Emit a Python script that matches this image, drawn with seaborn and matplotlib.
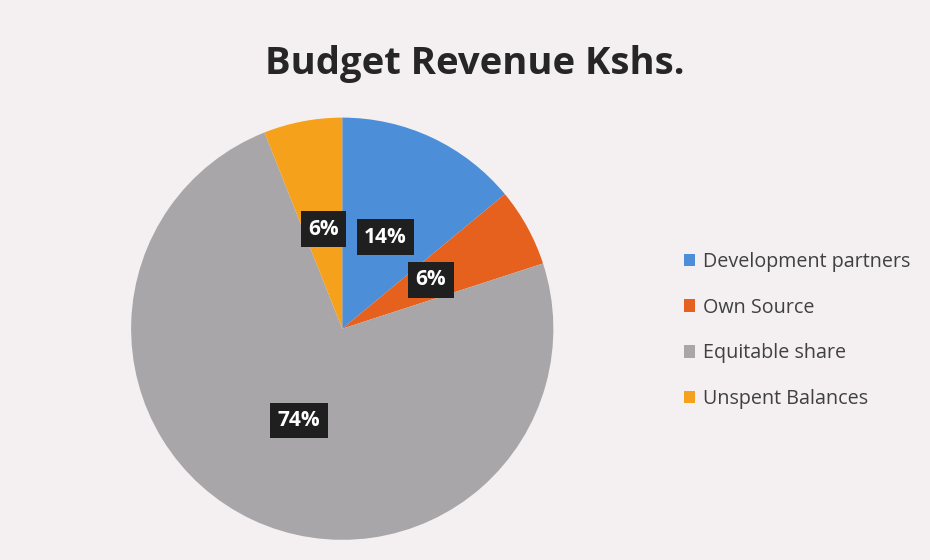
import matplotlib
matplotlib.use("Agg")
import matplotlib.pyplot as plt
import seaborn as sns

# budget revenue shares (percent)
sources = ["Development partners", "Own Source", "Equitable share", "Unspent Balances"]
shares = [14, 6, 74, 6]
colors = ["#4c8fd8", "#e6611e", "#a8a6a9", "#f6a11c"]

sns.set_theme(style="white")
plt.rcParams['font.family'] = ['Open Sans', 'DejaVu Sans']

fig = plt.figure(figsize=(9.3, 5.6), dpi=100, facecolor="#f4f0f1")
ax = fig.add_axes([0.141, 0.036, 0.454, 0.754])
ax.set_facecolor("none")

wedges, texts, autotexts = ax.pie(shares, colors=colors, startangle=90, counterclock=False,
                                  autopct="%1.0f%%", pctdistance=0.48,
                                  wedgeprops=dict(linewidth=0))
for t in autotexts:
    t.set_color("white")
    t.set_fontsize(15)
    t.set_fontweight("bold")
    t.set_bbox(dict(boxstyle="square,pad=0.35", facecolor="#1f1f1f", edgecolor="none"))
ax.set_xlim(-1, 1)
ax.set_ylim(-1, 1)
ax.set_aspect("equal")

fig.text(0.51, 0.885, "Budget Revenue Kshs.", ha="center", va="center",
         fontsize=27.5, fontweight="bold", color="#262626")

leg = fig.legend(wedges, sources, loc="center left", bbox_to_anchor=(0.716, 0.41),
                 frameon=False, fontsize=14.2, handlelength=0.6, handleheight=0.6,
                 handletextpad=0.4, labelspacing=1.3)
for t in leg.get_texts():
    t.set_color("#404040")

fig.savefig("out.png", dpi=100, facecolor=fig.get_facecolor())
